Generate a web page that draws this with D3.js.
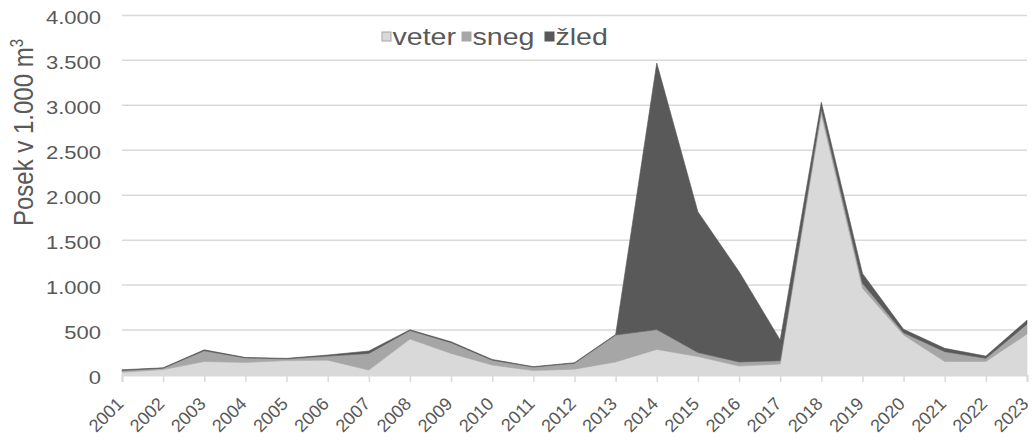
<!DOCTYPE html>
<html><head><meta charset="utf-8">
<script src="https://cdn.jsdelivr.net/npm/d3@7/dist/d3.min.js"></script>
<style>body{margin:0;background:#fff}svg{display:block;font-family:"Liberation Sans",Arial,sans-serif}</style>
</head><body><svg id="c" width="1032" height="442"></svg>
<script>
const years = ["2001","2002","2003","2004","2005","2006","2007","2008","2009","2010","2011","2012","2013","2014","2015","2016","2017","2018","2019","2020","2021","2022","2023"];
const veter = [30,60,150,140,160,165,55,400,240,110,50,65,145,285,205,100,122,2900,965,445,150,150,455];
const sneg  = [20,15,120,50,20,45,185,95,120,55,38,65,300,220,45,45,37,60,55,25,110,35,110];
const zled  = [8,5,10,5,5,12,27,8,10,8,5,7,5,2965,1565,1005,230,75,110,38,37,25,45];
const seriesNames = ["veter","sneg","žled"];
const colors = ["#d9d9d9","#a6a6a6","#595959"];
const yTicks = [0,500,1000,1500,2000,2500,3000,3500,4000];

const SX = 1.19; // horizontal stretch of the reference's text
const svg = d3.select("#c");
const x = d3.scalePoint().domain(years).range([122,1027]);
const y = d3.scaleLinear().domain([0,4000]).range([375,15.4]);
const fmt = v => d3.format(",")(v).replace(/,/g,".");

// gridlines
svg.append("g").selectAll("line").data(yTicks.filter(t=>t>0)).join("line")
  .attr("x1",122).attr("x2",1027).attr("y1",d=>y(d)).attr("y2",d=>y(d))
  .attr("stroke","#d9d9d9").attr("stroke-width",1.5);

// stacked areas
const rows = years.map((yr,i)=>({year:yr, veter:veter[i], sneg:sneg[i], "žled":zled[i]}));
const stack = d3.stack().keys(seriesNames)(rows);
const area = d3.area().x(d=>x(d.data.year)).y0(d=>y(d[0])).y1(d=>y(d[1]));
svg.append("g").selectAll("path").data(stack).join("path")
  .attr("d",area).attr("fill",(d,i)=>colors[i]).attr("stroke",(d,i)=>colors[i]).attr("stroke-width",0.6);

// x axis
const xAxis = d3.axisBottom(x).tickSize(7);
const gx = svg.append("g").attr("transform","translate(0,375)").call(xAxis);
gx.select(".domain").attr("stroke","#d9d9d9").attr("stroke-width",2);
gx.selectAll(".tick line").attr("stroke","#d9d9d9").attr("stroke-width",1.5);
gx.selectAll(".tick text").attr("fill","#595959").attr("font-size",18)
  .attr("text-anchor","end").attr("x",0).attr("y",0).attr("dy",null)
  .attr("transform","translate(2,30) rotate(-45)");

// y axis labels
const yAxis = d3.axisLeft(y).tickValues(yTicks).tickFormat(fmt).tickSize(0);
const gy = svg.append("g").call(yAxis);
gy.select(".domain").remove();
gy.selectAll(".tick text").attr("fill","#595959").attr("font-size",18.5)
  .attr("text-anchor","end").attr("x",0).attr("y",0).attr("dy","0.45em")
  .attr("transform",`translate(101,0) scale(${SX},1)`);

// y title
svg.append("text").attr("transform",`translate(33,132.5) scale(${SX},1) rotate(-90)`).attr("text-anchor","middle")
  .attr("fill","#595959").attr("font-size",24)
  .html('Posek v 1.000 m<tspan baseline-shift="super" font-size="15">3</tspan>');

// legend
const sqx = [382,462,545];
const lg = svg.append("g");
seriesNames.forEach((n,i)=>{
  lg.append("rect").attr("x",sqx[i]).attr("y",32).attr("width",9).attr("height",9)
    .attr("fill",colors[i]).attr("stroke",i===0?"#a6a6a6":colors[i]).attr("stroke-width",1);
  lg.append("text").attr("transform",`translate(${sqx[i]+10.5},45) scale(${SX},1)`)
    .attr("fill","#595959").attr("font-size",24).text(n);
});
</script></body></html>
